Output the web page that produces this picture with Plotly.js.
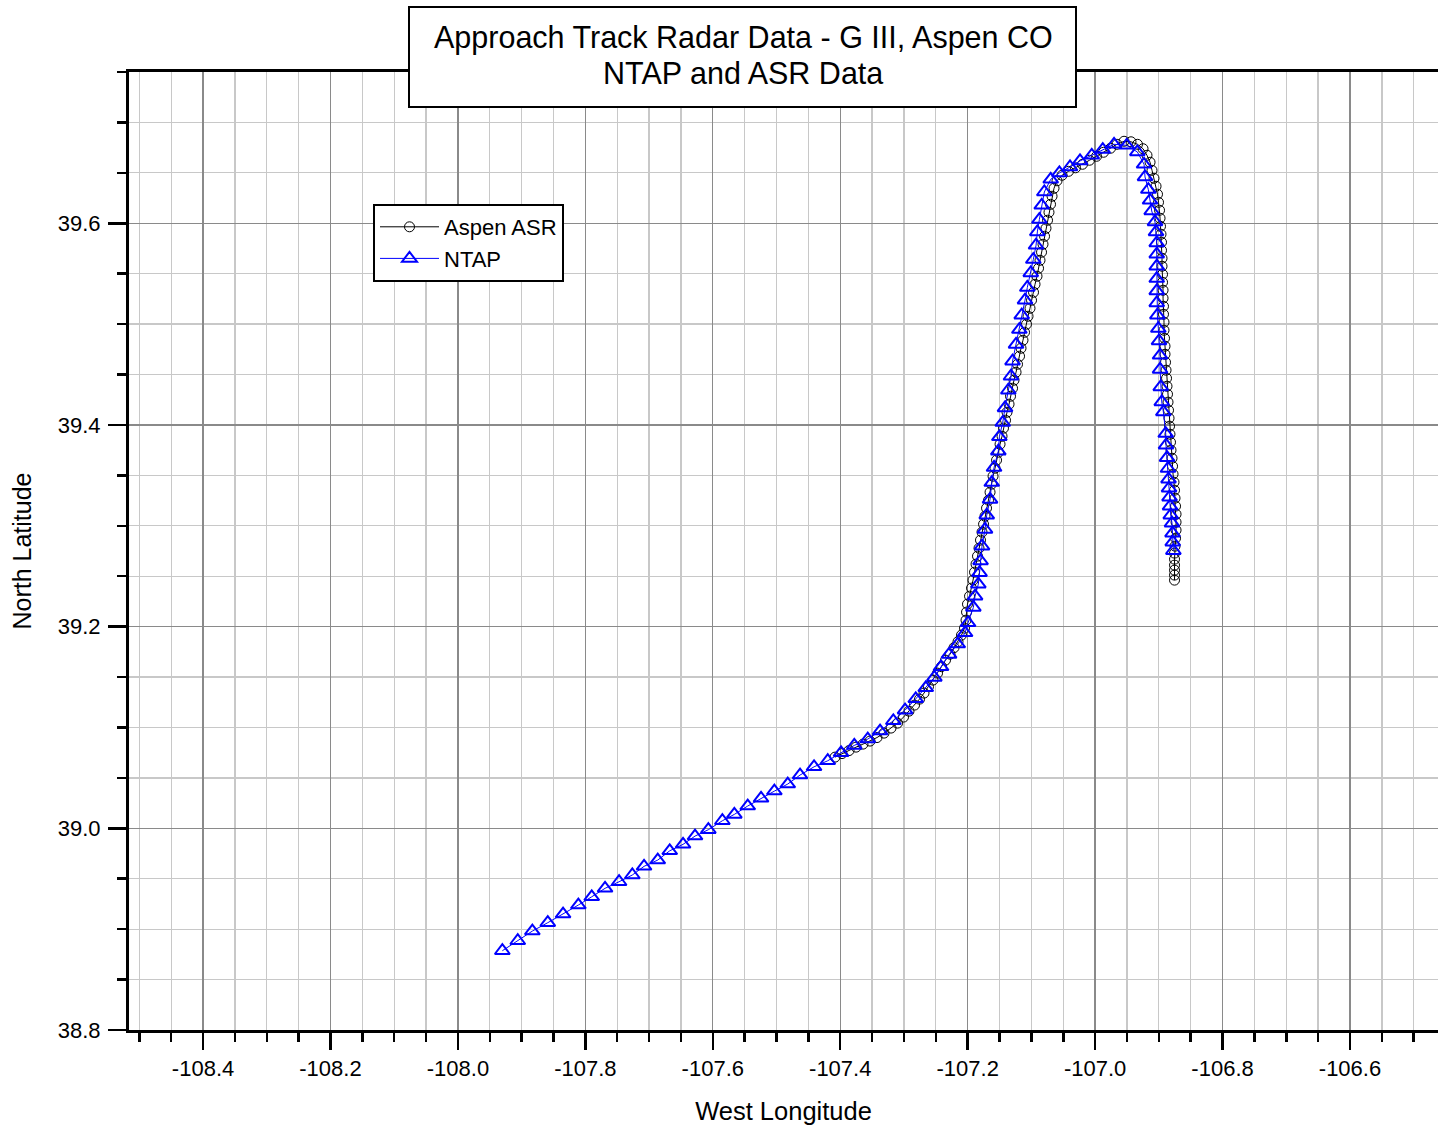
<!DOCTYPE html>
<html>
<head>
<meta charset="utf-8">
<script src="https://cdn.plot.ly/plotly-3.0.1.min.js"></script>
<style>
  html, body { margin: 0; padding: 0; background: #ffffff; }
  #chart { width: 1438px; height: 1135px; }
</style>
</head>
<body>
<div id="chart"></div>
<script>
// ---- Data ----
const ntapLon = [
  -107.9303, -107.9061, -107.8832, -107.8590, -107.8350, -107.8110, -107.7900, -107.7691,
  -107.7471, -107.7263, -107.7079, -107.6864, -107.6676, -107.6467, -107.6279, -107.6070,
  -107.5850, -107.5662, -107.5452, -107.5243, -107.5034, -107.4824, -107.4631, -107.4411,
  -107.4196, -107.3987, -107.3779, -107.3568, -107.3375, -107.3167, -107.2983, -107.2815,
  -107.2658, -107.2523, -107.2418, -107.2292, -107.2156, -107.2041, -107.1994, -107.1911,
  -107.1884, -107.1833, -107.1814, -107.1798, -107.1775, -107.1728, -107.1701, -107.1649,
  -107.1622, -107.1586, -107.1519, -107.1503, -107.1450, -107.1414, -107.1362, -107.1320,
  -107.1296, -107.1241, -107.1189, -107.1152, -107.1100, -107.1064, -107.1010, -107.0970,
  -107.0927, -107.0907, -107.0875, -107.0838, -107.0797, -107.0697, -107.0561, -107.0394,
  -107.0237, -107.0053, -106.9880, -106.9703, -106.9504, -106.9337, -106.9232, -106.9217,
  -106.9165, -106.9138, -106.9112, -106.9060, -106.9044, -106.9033, -106.9033, -106.9033,
  -106.9033, -106.9033, -106.9033, -106.9023, -106.9008, -106.8997, -106.8981, -106.8981,
  -106.8970, -106.8954, -106.8929, -106.8892, -106.8887, -106.8871, -106.8856, -106.8848,
  -106.8840, -106.8832, -106.8824, -106.8813, -106.8793, -106.8785, -106.8782, -106.8772
];
const ntapLat = [
  38.8786, 38.8885, 38.8981, 38.9064, 38.9150, 38.9239, 38.9321, 38.9405,
  38.9470, 38.9537, 38.9623, 38.9685, 38.9777, 38.9841, 38.9923, 38.9986,
  39.0075, 39.0138, 39.0221, 39.0297, 39.0369, 39.0439, 39.0528, 39.0610,
  39.0670, 39.0749, 39.0822, 39.0885, 39.0964, 39.1066, 39.1172, 39.1284,
  39.1393, 39.1496, 39.1601, 39.1724, 39.1827, 39.1939, 39.2038, 39.2190,
  39.2302, 39.2421, 39.2535, 39.2652, 39.2798, 39.2964, 39.3105, 39.3261,
  39.3429, 39.3578, 39.3740, 39.3882, 39.4024, 39.4169, 39.4344, 39.4483,
  39.4632, 39.4798, 39.4946, 39.5088, 39.5237, 39.5363, 39.5507, 39.5640,
  39.5782, 39.5914, 39.6037, 39.6178, 39.6310, 39.6436, 39.6499, 39.6558,
  39.6618, 39.6674, 39.6731, 39.6783, 39.6773, 39.6707, 39.6585, 39.6459,
  39.6334, 39.6228, 39.6122, 39.6013, 39.5914, 39.5805, 39.5693, 39.5574,
  39.5452, 39.5329, 39.5210, 39.5088, 39.4956, 39.4833, 39.4691, 39.4550,
  39.4377, 39.4228, 39.4129, 39.3915, 39.3799, 39.3675, 39.3568, 39.3462,
  39.3373, 39.3284, 39.3195, 39.3105, 39.3026, 39.2927, 39.2838, 39.2753
];

const asrLon = [
  -107.4082, -107.3972, -107.3862, -107.3752, -107.3643, -107.3533, -107.3423, -107.3313,
  -107.3203, -107.3101, -107.3007, -107.2921, -107.2834, -107.2756, -107.2685, -107.2615,
  -107.2544, -107.2473, -107.2411, -107.2348, -107.2277, -107.2214, -107.2152, -107.2097,
  -107.2050, -107.2026, -107.2018, -107.2003, -107.1971, -107.1940, -107.1916, -107.1893,
  -107.1869, -107.1846, -107.1822, -107.1799, -107.1775, -107.1751, -107.1728, -107.1704,
  -107.1673, -107.1649, -107.1626, -107.1602, -107.1571, -107.1547, -107.1516, -107.1492,
  -107.1461, -107.1438, -107.1406, -107.1383, -107.1351, -107.1328, -107.1296, -107.1273,
  -107.1241, -107.1218, -107.1186, -107.1163, -107.1132, -107.1108, -107.1077, -107.1053,
  -107.1022, -107.0998, -107.0967, -107.0943, -107.0912, -107.0888, -107.0865, -107.0841,
  -107.0818, -107.0794, -107.0771, -107.0747, -107.0724, -107.0700, -107.0676, -107.0645,
  -107.0598, -107.0519, -107.0417, -107.0308, -107.0198, -107.0088, -106.9978, -106.9868,
  -106.9758, -106.9656, -106.9546, -106.9437, -106.9335, -106.9248, -106.9186, -106.9138,
  -106.9107, -106.9076, -106.9044, -106.9021, -106.9005, -106.8989, -106.8981, -106.8974,
  -106.8966, -106.8958, -106.8958, -106.8950, -106.8950, -106.8942, -106.8942, -106.8934,
  -106.8934, -106.8927, -106.8927, -106.8919, -106.8919, -106.8911, -106.8903, -106.8903,
  -106.8895, -106.8887, -106.8879, -106.8872, -106.8864, -106.8856, -106.8848, -106.8840,
  -106.8832, -106.8825, -106.8817, -106.8809, -106.8793, -106.8785, -106.8777, -106.8762,
  -106.8754, -106.8746, -106.8738, -106.8730, -106.8730, -106.8730, -106.8738, -106.8746,
  -106.8754, -106.8754, -106.8754, -106.8754, -106.8754, -106.8754
];
const asrLat = [
  39.0706, 39.0741, 39.0771, 39.0805, 39.0835, 39.0865, 39.0900, 39.0944,
  39.0994, 39.1043, 39.1103, 39.1162, 39.1222, 39.1281, 39.1341, 39.1405,
  39.1470, 39.1539, 39.1603, 39.1668, 39.1727, 39.1792, 39.1851, 39.1916,
  39.1985, 39.2064, 39.2144, 39.2223, 39.2302, 39.2382, 39.2461, 39.2540,
  39.2620, 39.2699, 39.2778, 39.2858, 39.2937, 39.3016, 39.3095, 39.3175,
  39.3254, 39.3333, 39.3413, 39.3492, 39.3571, 39.3651, 39.3730, 39.3809,
  39.3888, 39.3968, 39.4047, 39.4126, 39.4206, 39.4285, 39.4364, 39.4444,
  39.4523, 39.4602, 39.4682, 39.4761, 39.4840, 39.4919, 39.4999, 39.5078,
  39.5157, 39.5237, 39.5316, 39.5395, 39.5475, 39.5554, 39.5633, 39.5713,
  39.5792, 39.5871, 39.5950, 39.6030, 39.6109, 39.6188, 39.6268, 39.6347,
  39.6421, 39.6476, 39.6515, 39.6550, 39.6585, 39.6625, 39.6664, 39.6704,
  39.6744, 39.6783, 39.6813, 39.6808, 39.6783, 39.6739, 39.6674, 39.6605,
  39.6525, 39.6446, 39.6367, 39.6288, 39.6208, 39.6129, 39.6050, 39.5970,
  39.5891, 39.5812, 39.5732, 39.5653, 39.5574, 39.5494, 39.5415, 39.5336,
  39.5257, 39.5177, 39.5098, 39.5019, 39.4939, 39.4860, 39.4781, 39.4701,
  39.4622, 39.4543, 39.4463, 39.4384, 39.4305, 39.4226, 39.4146, 39.4067,
  39.3988, 39.3908, 39.3829, 39.3750, 39.3670, 39.3591, 39.3512, 39.3432,
  39.3353, 39.3274, 39.3195, 39.3115, 39.3036, 39.2957, 39.2877, 39.2798,
  39.2729, 39.2669, 39.2610, 39.2560, 39.2511, 39.2461
];

const xTickVals = [-108.4, -108.2, -108.0, -107.8, -107.6, -107.4, -107.2, -107.0, -106.8, -106.6];
const xTickText = ['-108.4', '-108.2', '-108.0', '-107.8', '-107.6', '-107.4', '-107.2', '-107.0', '-106.8', '-106.6'];
const yTickVals = [38.8, 39.0, 39.2, 39.4, 39.6];
const yTickText = ['38.8', '39.0', '39.2', '39.4', '39.6'];

const seriesNames = ['Aspen ASR', 'NTAP'];
const titleLines = ['Approach Track Radar Data - G III, Aspen CO', 'NTAP and ASR Data'];
const xTitle = 'West Longitude';
const yTitle = 'North Latitude';

// ---- Chart ----
const FONT = 'Arial, "Liberation Sans", Helvetica, sans-serif';

const traces = [
  {
    x: asrLon, y: asrLat, name: seriesNames[0],
    type: 'scatter', mode: 'lines+markers',
    line: { color: '#000000', width: 1 },
    marker: { symbol: 'circle-open', size: 10, color: '#000000', line: { width: 1, color: '#000000' } }
  },
  {
    x: ntapLon, y: ntapLat, name: seriesNames[1],
    type: 'scatter', mode: 'lines+markers',
    line: { color: '#0000ff', width: 1 },
    marker: { symbol: 'triangle-up-open', size: 13, color: '#0000ff', line: { width: 2, color: '#0000ff' } }
  }
];

const L = 129, R = 0, T = 72, B = 105, W = 1438, H = 1135;
const pw = W - L - R, ph = H - T - B;
const px2x = p => (p - L) / pw;
const py2y = p => (H - B - p) / ph;

const layout = {
  width: W, height: H,
  margin: { l: L, r: R, t: T, b: B, pad: 0 },
  paper_bgcolor: '#ffffff', plot_bgcolor: '#ffffff',
  font: { family: FONT, color: '#000000', size: 22 },
  showlegend: true,
  legend: {
    x: px2x(373), y: py2y(204), xanchor: 'left', yanchor: 'top',
    bgcolor: '#ffffff', bordercolor: '#000000', borderwidth: 2,
    font: { family: FONT, size: 22, color: '#000000' },
    itemwidth: 59, tracegroupgap: 0
  },
  xaxis: {
    range: [-108.5162, -106.4619], autorange: false,
    tickmode: 'array', tickvals: xTickVals, ticktext: xTickText,
    ticks: 'outside', ticklen: 17, tickwidth: 2.5, tickcolor: '#000000',
    ticklabelstandoff: 0,
    tickfont: { family: FONT, size: 22, color: '#000000' },
    showline: true, linewidth: 3, linecolor: '#000000', mirror: true,
    showgrid: true, gridcolor: '#8a8a8a', gridwidth: 1.3,
    zeroline: false,
    minor: {
      tickmode: 'linear', tick0: -108.4, dtick: 0.05,
      ticks: 'outside', ticklen: 9, tickwidth: 2.5, tickcolor: '#000000',
      showgrid: true, gridcolor: '#c8c8c8', gridwidth: 1.3
    },
    title: { text: xTitle, font: { family: FONT, size: 25.5, color: '#000000' }, standoff: 22 },
    automargin: false
  },
  yaxis: {
    range: [38.8, 39.75], autorange: false,
    tickmode: 'array', tickvals: yTickVals, ticktext: yTickText,
    ticks: 'outside', ticklen: 18, tickwidth: 2.5, tickcolor: '#000000',
    ticklabelstandoff: 3,
    tickfont: { family: FONT, size: 22, color: '#000000' },
    showline: true, linewidth: 3, linecolor: '#000000', mirror: false,
    showgrid: true, gridcolor: '#8a8a8a', gridwidth: 1.3,
    zeroline: false,
    minor: {
      tickmode: 'linear', tick0: 38.8, dtick: 0.05,
      ticks: 'outside', ticklen: 9, tickwidth: 2.5, tickcolor: '#000000',
      showgrid: true, gridcolor: '#c8c8c8', gridwidth: 1.3
    },
    title: { text: yTitle, font: { family: FONT, size: 25, color: '#000000' }, standoff: 20 },
    automargin: false
  },
  shapes: [
    {
      type: 'rect', xref: 'paper', yref: 'paper', layer: 'above',
      x0: px2x(409), x1: px2x(1076), y0: py2y(107), y1: py2y(7),
      line: { color: '#000000', width: 2 }, fillcolor: '#ffffff'
    }
  ],
  annotations: [
    {
      xref: 'paper', yref: 'paper', x: px2x(743), y: py2y(37),
      xanchor: 'center', yanchor: 'middle', showarrow: false,
      text: titleLines[0], align: 'center',
      font: { family: FONT, size: 30.5, color: '#000000' }
    },
    {
      xref: 'paper', yref: 'paper', x: px2x(743), y: py2y(73),
      xanchor: 'center', yanchor: 'middle', showarrow: false,
      text: titleLines[1], align: 'center',
      font: { family: FONT, size: 30.5, color: '#000000' }
    }
  ]
};

Plotly.newPlot('chart', traces, layout, { displayModeBar: false, staticPlot: true });
</script>
</body>
</html>
